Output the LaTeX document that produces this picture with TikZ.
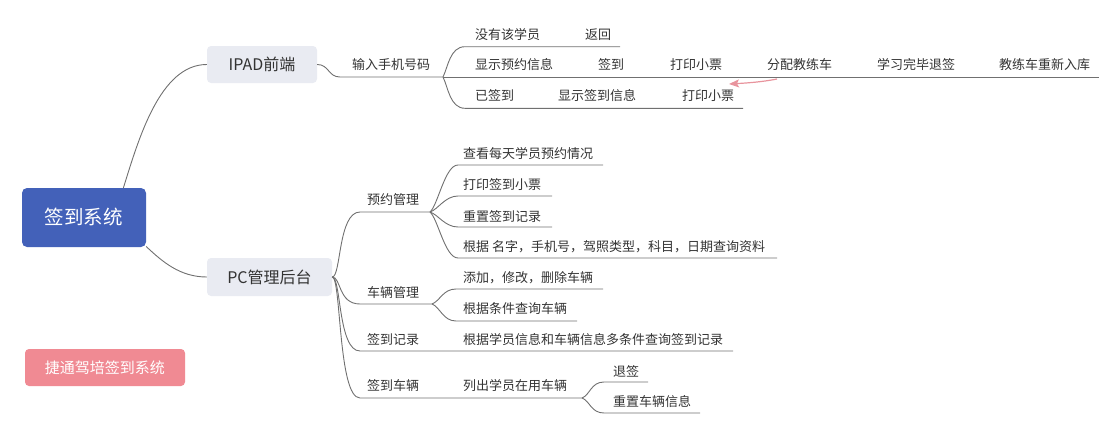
\documentclass[tikz,border=0pt]{standalone}
\usepackage{fontspec}
\setmainfont{Noto Sans CJK SC}
\usetikzlibrary{arrows.meta,calc}
\definecolor{rootblue}{HTML}{4361B9}
\definecolor{boxgray}{HTML}{E9EBF2}
\definecolor{pinkbox}{HTML}{F08A93}
\definecolor{linegray}{HTML}{707070}
\definecolor{txt}{HTML}{333333}
\definecolor{relpink}{HTML}{E8949D}
\begin{document}
\begin{tikzpicture}[x=1pt,y=-1pt,
  lbl/.style={anchor=west, inner sep=0pt, font=\fontsize{13}{15}\selectfont, text=txt, text height=10.8pt, text depth=0.9pt},
  topic/.style={fill=boxgray, rounded corners=4pt, text=txt, font=\fontsize{16}{19}\selectfont, inner sep=0pt},
  rootbox/.style={fill=rootblue, rounded corners=5pt, text=white, font=\fontsize{19.5}{23}\selectfont, inner sep=0pt},
  brandbox/.style={fill=pinkbox, rounded corners=4pt, text=white, font=\fontsize{15}{18}\selectfont, inner sep=0pt},
  conn/.style={draw=linegray, line width=0.9pt},
  rel/.style={draw=relpink, line width=1.2pt, -{Stealth[length=10pt,width=8pt,inset=2pt]}}]
\useasboundingbox (0,0) rectangle (1120,434);

% main boxes
\node[rootbox, minimum width=124pt, minimum height=59pt] (root) at (84,217.5) {签到系统};
\node[topic, minimum width=110pt, minimum height=37pt] (ipad) at (262,64.5) {IPAD前端};
\node[topic, minimum width=125pt, minimum height=38pt] (pc) at (269.5,277) {PC管理后台};
\node[brandbox, minimum width=160pt, minimum height=37pt] (brand) at (105,367.5) {捷通驾培签到系统};

% root connectors
\draw[conn] (root.37) .. controls +(15,-48) and +(-47,0) .. (ipad.west);
\draw[conn] (root.-25) .. controls +(16,15) and +(-27,0) .. (pc.west);

% ---------- IPAD branch ----------
\coordinate (uIn) at (340,77);
\coordinate (bIn) at (443,77);
\coordinate (uNo) at (465,46.7);
\coordinate (eNo) at (620,46.7);
\coordinate (eShow) at (1099,77);
\coordinate (uDone) at (465,108.3);
\coordinate (eDone) at (743,108.3);

\draw[conn] (ipad.east) .. controls +(12,0) and +(-12,0) .. (uIn) -- (bIn);
\draw[conn] (bIn) .. controls +(5,-10) and +(-15,0) .. (uNo) -- (eNo);
\draw[conn] (bIn) -- (eShow);
\draw[conn] (bIn) .. controls +(5,10) and +(-15,0) .. (uDone) -- (eDone);

\node[lbl] (tIn) at (352,65) {输入手机号码};
\node[lbl] (tNo) at (475,35) {没有该学员};
\node[lbl] (tBack) at (585,35) {返回};
\node[lbl] (tShow) at (475,65) {显示预约信息};
\node[lbl] (tSign) at (598,65) {签到};
\node[lbl] (tPrint) at (670,65) {打印小票};
\node[lbl] (tAssign) at (767,65) {分配教练车};
\node[lbl] (tFinish) at (877,65) {学习完毕退签};
\node[lbl] (tReturn) at (999,65) {教练车重新入库};
\node[lbl] (tDone) at (475,96) {已签到};
\node[lbl] (tShowDone) at (558,96) {显示签到信息};
\node[lbl] (tPrint2) at (682,96) {打印小票};

\coordinate (rS) at (777,79);
\coordinate (rE) at (729,84);
\draw[rel] (rS) .. controls +(-15,3) and +(18,-1) .. (rE);

% ---------- PC branch ----------
\coordinate (uYy) at (360,212);  \coordinate (bYy) at (430,212);
\coordinate (uCl) at (360,304);  \coordinate (bCl) at (432,304);
\coordinate (uJl) at (360,351);  \coordinate (eJl) at (733,351);
\coordinate (uCar) at (360,398); \coordinate (bCar) at (582,398);

\draw[conn] (pc.east) .. controls +(9,0) and +(-22,0) .. (uYy) -- (bYy);
\draw[conn] (pc.east) .. controls +(9,0) and +(-22,0) .. (uCl) -- (bCl);
\draw[conn] (pc.east) .. controls +(9,0) and +(-22,0) .. (uJl) -- (eJl);
\draw[conn] (pc.east) .. controls +(9,0) and +(-22,0) .. (uCar) -- (bCar);

\node[lbl] (tYy) at (367,200) {预约管理};
\node[lbl] (tCl) at (367,293) {车辆管理};
\node[lbl] (tJl) at (367,340) {签到记录};
\node[lbl] (tCar) at (367,386) {签到车辆};

% 预约管理 children
\coordinate (uY1) at (458,165); \coordinate (eY1) at (603,165);
\coordinate (uY2) at (458,196); \coordinate (eY2) at (552,196);
\coordinate (uY3) at (458,227); \coordinate (eY3) at (552,227);
\coordinate (uY4) at (458,258); \coordinate (eY4) at (777,258);
\draw[conn] (bYy) .. controls +(8,-7) and +(-13,0) .. (uY1) -- (eY1);
\draw[conn] (bYy) .. controls +(8,-2.5) and +(-13,0) .. (uY2) -- (eY2);
\draw[conn] (bYy) .. controls +(8,2.5) and +(-13,0) .. (uY3) -- (eY3);
\draw[conn] (bYy) .. controls +(8,7) and +(-13,0) .. (uY4) -- (eY4);
\node[lbl] (tY1) at (463,154) {查看每天学员预约情况};
\node[lbl] (tY2) at (463,185) {打印签到小票};
\node[lbl] (tY3) at (463,217) {重置签到记录};
\node[lbl] (tY4) at (463,247) {根据 名字，手机号，驾照类型，科目，日期查询资料};

% 车辆管理 children
\coordinate (uC1) at (456,289); \coordinate (eC1) at (603,289);
\coordinate (uC2) at (456,321); \coordinate (eC2) at (577,321);
\draw[conn] (bCl) .. controls +(8,-3) and +(-13,0) .. (uC1) -- (eC1);
\draw[conn] (bCl) .. controls +(8,3) and +(-13,0) .. (uC2) -- (eC2);
\node[lbl] (tC1) at (463,278) {添加，修改，删除车辆};
\node[lbl] (tC2) at (463,309) {根据条件查询车辆};

% 签到记录 child
\node[lbl] (tJ1) at (463,340) {根据学员信息和车辆信息多条件查询签到记录};

% 签到车辆 children
\node[lbl] (tK1) at (463,386) {列出学员在用车辆};
\coordinate (uK1) at (604,382); \coordinate (eK1) at (648,382);
\coordinate (uK2) at (604,413); \coordinate (eK2) at (700,413);
\draw[conn] (bCar) .. controls +(8,-3) and +(-13,0) .. (uK1) -- (eK1);
\draw[conn] (bCar) .. controls +(8,3) and +(-13,0) .. (uK2) -- (eK2);
\node[lbl] (tK2) at (613,372) {退签};
\node[lbl] (tK3) at (613,402) {重置车辆信息};
\end{tikzpicture}
\end{document}
